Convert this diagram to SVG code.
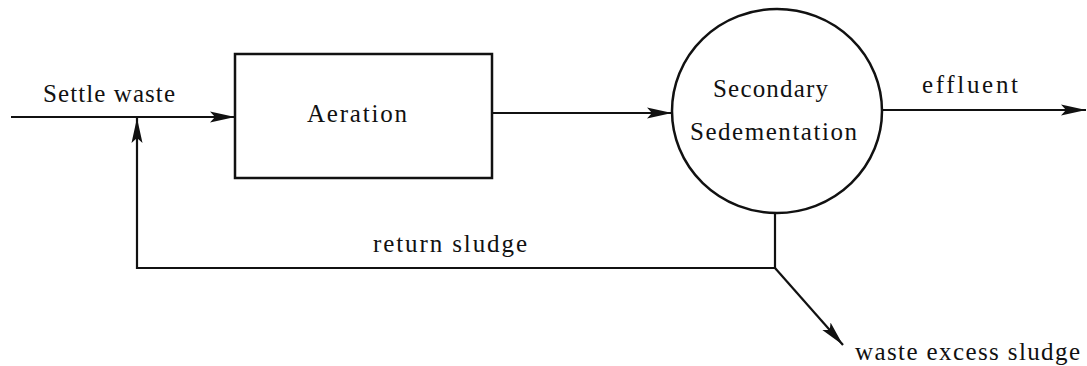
<svg xmlns="http://www.w3.org/2000/svg" width="1087" height="366" viewBox="0 0 1087 366">
<style>
.t{font-family:"Liberation Serif","Times New Roman",serif;font-size:25px;fill:#111}
.ln{fill:none;stroke:#111;stroke-width:2.2}
.shape{fill:#fff;stroke:#111;stroke-width:2.5}
</style>
<defs>
<marker id="arr" markerUnits="userSpaceOnUse" markerWidth="26" markerHeight="14" refX="25" refY="7" orient="auto">
<path d="M0,1.5 L25,7 L0,12.5 L5,7 z" fill="#111"/>
</marker>
</defs>
<rect width="1087" height="366" fill="#fff"/>
<g id="connectors">
<line class="ln" x1="11" y1="117" x2="235" y2="117" marker-end="url(#arr)"/>
<line class="ln" x1="493" y1="113" x2="672" y2="113" marker-end="url(#arr)"/>
<line class="ln" x1="882" y1="110" x2="1086" y2="110" marker-end="url(#arr)"/>
<polyline class="ln" points="775,213 775,268 137,268 137,118" marker-end="url(#arr)"/>
<line class="ln" x1="775" y1="268" x2="843" y2="345" marker-end="url(#arr)"/>
<text class="t" x="43" y="102" textLength="132" lengthAdjust="spacing">Settle waste</text>
<text class="t" x="922" y="93" textLength="96" lengthAdjust="spacing">effluent</text>
<text class="t" x="373" y="252" textLength="154" lengthAdjust="spacing">return sludge</text>
<text class="t" x="855" y="360" textLength="225" lengthAdjust="spacing">waste excess sludge</text>
</g>
<g id="aeration">
<rect class="shape" x="235" y="54" width="257" height="124"/>
<text class="t" x="307" y="122" textLength="100" lengthAdjust="spacing">Aeration</text>
</g>
<g id="secondary-sedimentation">
<ellipse class="shape" cx="777" cy="111" rx="105" ry="102"/>
<text class="t" x="713" y="97" textLength="115" lengthAdjust="spacing">Secondary</text>
<text class="t" x="690" y="140" textLength="167" lengthAdjust="spacing">Sedementation</text>
</g>
</svg>
